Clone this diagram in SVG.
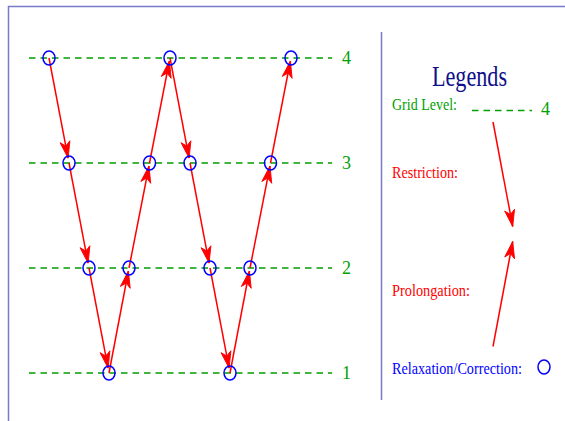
<svg xmlns="http://www.w3.org/2000/svg" width="565" height="421" viewBox="0 0 565 421">
<style>
.frame{stroke:#7a7ac8;stroke-width:1.5;fill:none}
.grid{stroke:#00a000;stroke-width:1.5;stroke-dasharray:6.5 5;fill:none}
.node{stroke:#0000ff;stroke-width:1.5;fill:none}
.arr{stroke:#ff0000;stroke-width:1.5;fill:none;marker-end:url(#ah)}
.lvl{font-family:"Liberation Serif",serif;font-size:18px;fill:#00a000}
.lab{font-family:"Liberation Serif",serif;font-size:17px}
</style>
<defs>
<marker id="ah" markerUnits="userSpaceOnUse" markerWidth="20" markerHeight="20" viewBox="-16 -6 18 12" refX="0" refY="0" orient="auto">
<path d="M0,0 L-15,-4.5 L-11,0 L-15,4.5 Z" fill="#ff0000" stroke="#ff0000" stroke-width="0.8"/>
</marker>
</defs>
<rect width="565" height="421" fill="#ffffff"/>
<path class="frame" d="M8.5,421 V6.5 H565"/>
<line class="frame" x1="381.5" y1="32" x2="381.5" y2="400"/>
<g id="grid">
<line class="grid" x1="29" y1="58" x2="332" y2="58"/>
<line class="grid" x1="29" y1="163" x2="332" y2="163"/>
<line class="grid" x1="29" y1="268" x2="332" y2="268"/>
<line class="grid" x1="29" y1="373" x2="332" y2="373"/>
<text class="lvl" x="342" y="64">4</text>
<text class="lvl" x="342" y="169">3</text>
<text class="lvl" x="342" y="274">2</text>
<text class="lvl" x="342" y="379">1</text>
</g>
<g id="connectors">
<line class="arr" x1="49" y1="58" x2="68.1" y2="158.1"/>
<line class="arr" x1="69" y1="163" x2="88.1" y2="263.1"/>
<line class="arr" x1="89" y1="268" x2="108.1" y2="368.1"/>
<line class="arr" x1="170" y1="58" x2="189.1" y2="158.1"/>
<line class="arr" x1="190" y1="163" x2="209.1" y2="263.1"/>
<line class="arr" x1="210" y1="268" x2="229.1" y2="368.1"/>
<line class="arr" x1="109" y1="373" x2="128.4" y2="271"/>
<line class="arr" x1="129" y1="268" x2="149" y2="166"/>
<line class="arr" x1="149.5" y1="163" x2="169.4" y2="61"/>
<line class="arr" x1="230" y1="373" x2="249.4" y2="271"/>
<line class="arr" x1="250" y1="268" x2="270" y2="166"/>
<line class="arr" x1="270.5" y1="163" x2="290.4" y2="61"/>
</g>
<g id="n4a"><ellipse class="node" cx="49" cy="58" rx="6" ry="7"/></g>
<g id="n4b"><ellipse class="node" cx="170" cy="58" rx="6" ry="7"/></g>
<g id="n4c"><ellipse class="node" cx="291" cy="58" rx="6" ry="7"/></g>
<g id="n3a"><ellipse class="node" cx="69" cy="163" rx="6" ry="7"/></g>
<g id="n3b"><ellipse class="node" cx="149.5" cy="163" rx="6" ry="7"/></g>
<g id="n3c"><ellipse class="node" cx="190" cy="163" rx="6" ry="7"/></g>
<g id="n3d"><ellipse class="node" cx="270.5" cy="163" rx="6" ry="7"/></g>
<g id="n2a"><ellipse class="node" cx="89" cy="268" rx="6" ry="7"/></g>
<g id="n2b"><ellipse class="node" cx="129" cy="268" rx="6" ry="7"/></g>
<g id="n2c"><ellipse class="node" cx="210" cy="268" rx="6" ry="7"/></g>
<g id="n2d"><ellipse class="node" cx="250" cy="268" rx="6" ry="7"/></g>
<g id="n1a"><ellipse class="node" cx="109" cy="373" rx="6" ry="7"/></g>
<g id="n1b"><ellipse class="node" cx="230" cy="373" rx="6" ry="7"/></g>
<g id="legend">
<text x="432" y="86" font-family="'Liberation Serif',serif" font-size="30" fill="#10108a" textLength="75" lengthAdjust="spacingAndGlyphs">Legends</text>
<text class="lab" x="392" y="110" fill="#00a000" textLength="65" lengthAdjust="spacingAndGlyphs">Grid Level:</text>
<line class="grid" x1="472" y1="110.5" x2="532" y2="110.5"/>
<text class="lvl" x="541" y="115">4</text>
<text class="lab" x="392" y="178" fill="#ff0000" textLength="66" lengthAdjust="spacingAndGlyphs">Restriction:</text>
<line class="arr" x1="493" y1="122" x2="512.7" y2="226.5"/>
<text class="lab" x="392" y="296" fill="#ff0000" textLength="78" lengthAdjust="spacingAndGlyphs">Prolongation:</text>
<line class="arr" x1="493" y1="346.5" x2="512.7" y2="241.5"/>
<text class="lab" x="392" y="374" fill="#0000ff" textLength="130" lengthAdjust="spacingAndGlyphs">Relaxation/Correction:</text>
<ellipse class="node" cx="544" cy="367" rx="6" ry="7"/>
</g>
</svg>
